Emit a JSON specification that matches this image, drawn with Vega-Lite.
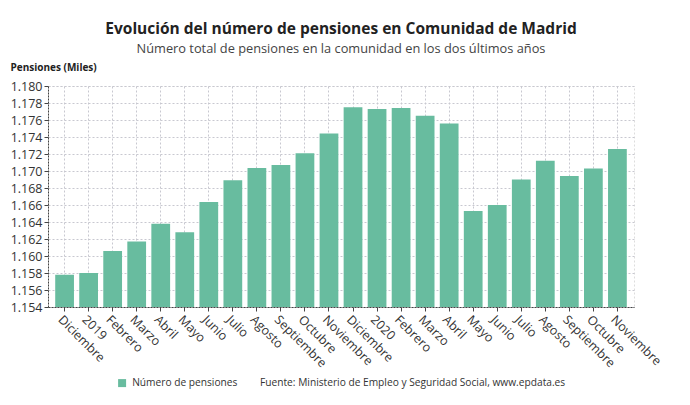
{
  "$schema": "https://vega.github.io/schema/vega-lite/v6.json",
  "width": 690,
  "height": 405,
  "autosize": {"type": "fit", "contains": "padding"},
  "padding": {"left": 10, "right": 30, "top": 21, "bottom": 16},
  "background": "white",
  "title": {
    "text": "Evolución del número de pensiones en Comunidad de Madrid",
    "subtitle": "Número total de pensiones en la comunidad en los dos últimos años",
    "font": "Open Sans",
    "fontSize": 15.5,
    "fontWeight": "bold",
    "color": "#222222",
    "subtitleFont": "Open Sans",
    "subtitleFontSize": 12.8,
    "subtitleColor": "#444444",
    "subtitlePadding": 6,
    "anchor": "middle",
    "offset": 6
  },
  "data": {
    "values": [
      {"mes": "Diciembre|0", "valor": 1157.8, "serie": "Número de pensiones"},
      {"mes": "2019|1", "valor": 1158.0, "serie": "Número de pensiones"},
      {"mes": "Febrero|2", "valor": 1160.6, "serie": "Número de pensiones"},
      {"mes": "Marzo|3", "valor": 1161.7, "serie": "Número de pensiones"},
      {"mes": "Abril|4", "valor": 1163.8, "serie": "Número de pensiones"},
      {"mes": "Mayo|5", "valor": 1162.8, "serie": "Número de pensiones"},
      {"mes": "Junio|6", "valor": 1166.35, "serie": "Número de pensiones"},
      {"mes": "Julio|7", "valor": 1168.9, "serie": "Número de pensiones"},
      {"mes": "Agosto|8", "valor": 1170.35, "serie": "Número de pensiones"},
      {"mes": "Septiembre|9", "valor": 1170.7, "serie": "Número de pensiones"},
      {"mes": "Octubre|10", "valor": 1172.1, "serie": "Número de pensiones"},
      {"mes": "Noviembre|11", "valor": 1174.4, "serie": "Número de pensiones"},
      {"mes": "Diciembre|12", "valor": 1177.5, "serie": "Número de pensiones"},
      {"mes": "2020|13", "valor": 1177.3, "serie": "Número de pensiones"},
      {"mes": "Febrero|14", "valor": 1177.4, "serie": "Número de pensiones"},
      {"mes": "Marzo|15", "valor": 1176.5, "serie": "Número de pensiones"},
      {"mes": "Abril|16", "valor": 1175.6, "serie": "Número de pensiones"},
      {"mes": "Mayo|17", "valor": 1165.3, "serie": "Número de pensiones"},
      {"mes": "Junio|18", "valor": 1166.0, "serie": "Número de pensiones"},
      {"mes": "Julio|19", "valor": 1169.0, "serie": "Número de pensiones"},
      {"mes": "Agosto|20", "valor": 1171.2, "serie": "Número de pensiones"},
      {"mes": "Septiembre|21", "valor": 1169.4, "serie": "Número de pensiones"},
      {"mes": "Octubre|22", "valor": 1170.3, "serie": "Número de pensiones"},
      {"mes": "Noviembre|23", "valor": 1172.6, "serie": "Número de pensiones"}
    ]
  },
  "mark": {"type": "bar", "clip": true},
  "encoding": {
    "x": {
      "field": "mes",
      "type": "nominal",
      "sort": null,
      "scale": {"paddingInner": 0.22, "paddingOuter": 0.3},
      "axis": {
        "title": null,
        "labelExpr": "split(datum.value, '|')[0]",
        "labelAngle": 45,
        "labelAlign": "left",
        "labelBaseline": "top",
        "labelFont": "Open Sans",
        "labelFontSize": 12.5,
        "labelColor": "#333333",
        "labelPadding": 2,
        "grid": true,
        "gridDash": [2, 2],
        "gridColor": "#c8c8d0",
        "domainColor": "#444444",
        "domainDash": [2, 1],
        "tickColor": "#444444",
        "tickSize": 4
      }
    },
    "y": {
      "field": "valor",
      "type": "quantitative",
      "scale": {"domain": [1154, 1180], "zero": false, "nice": false},
      "axis": {
        "title": "Pensiones (Miles)",
        "titleAngle": 0,
        "titleAlign": "left",
        "titleAnchor": "end",
        "titleBaseline": "bottom",
        "titleX": -38,
        "titleY": -14,
        "titleFont": "Open Sans",
        "titleFontSize": 10,
        "titleFontWeight": "bold",
        "titleColor": "#222222",
        "values": [1154, 1156, 1158, 1160, 1162, 1164, 1166, 1168, 1170, 1172, 1174, 1176, 1178, 1180],
        "labelExpr": "replace(format(datum.value, ',.0f'), ',', '.')",
        "labelFont": "Open Sans",
        "labelFontSize": 12.5,
        "labelColor": "#333333",
        "grid": true,
        "gridDash": [2, 2],
        "gridColor": "#c8c8d0",
        "domainColor": "#444444",
        "domainDash": [2, 1],
        "tickColor": "#444444",
        "tickSize": 4
      }
    },
    "color": {
      "field": "serie",
      "type": "nominal",
      "scale": {"range": ["#68bc9f"]},
      "legend": {
        "orient": "bottom",
        "direction": "horizontal",
        "title": "Fuente: Ministerio de Empleo y Seguridad Social, www.epdata.es",
        "titleOrient": "right",
        "titleLimit": 600,
        "titleFont": "Open Sans",
        "titleFontSize": 10.2,
        "titleFontWeight": "normal",
        "titleColor": "#333333",
        "titlePadding": 23,
        "labelFont": "Open Sans",
        "labelFontSize": 10.2,
        "labelColor": "#333333",
        "labelOffset": 5,
        "symbolType": "square",
        "symbolSize": 64,
        "symbolStrokeWidth": 0,
        "offset": 8
      }
    }
  },
  "config": {
    "view": {"stroke": "#dddddd", "strokeDash": [2, 2]},
    "legend": {"layout": {"bottom": {"anchor": "middle"}}}
  }
}
